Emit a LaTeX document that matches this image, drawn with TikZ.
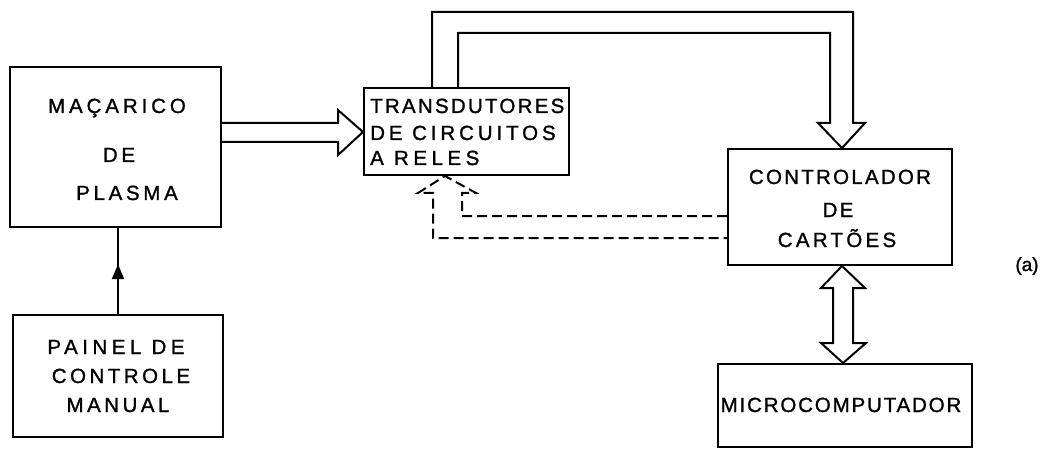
\documentclass[tikz,border=0pt]{standalone}
\usepackage{fontspec}
\newfontfamily\diagfont[FakeBold=1.2]{Liberation Sans}
\usetikzlibrary{decorations.markings,arrows.meta}
\begin{document}
\begin{tikzpicture}[x=1pt,y=-1pt,
  blk/.style={draw, line width=2pt, rectangle, inner sep=0pt},
  txt/.style={anchor=base, inner sep=0pt, font={\diagfont\fontsize{20.5}{24}\selectfont\addfontfeatures{LetterSpace=#1}}},
  txt/.default=15,
  wire/.style={line width=2pt, line join=miter},
  dwire/.style={line width=2pt, dashed, dash pattern=on 10pt off 5pt}
]
\useasboundingbox (0,0) rectangle (1046,449);
% boxes
\node[blk, minimum width=211pt, minimum height=160pt] (mac) at (115.5,147) {};
\node[blk, minimum width=210pt, minimum height=122pt] (pai) at (118,376) {};
\node[blk, minimum width=205pt, minimum height=87pt] (tra) at (466.5,131.5) {};
\node[blk, minimum width=224pt, minimum height=116pt] (con) at (840,207) {};
\node[blk, minimum width=254pt, minimum height=83pt] (mic) at (845,405.5) {};
% texts
\node[txt=19] (t1) at (117,113) {MAÇARICO};
\node[txt=18] (t2) at (119,162) {DE};
\node[txt=18] (t3) at (127,200) {PLASMA};
\node[txt=22] (t4) at (116,354) {PAINEL DE};
\node[txt=17] (t5) at (121,383) {CONTROLE};
\node[txt=17] (t6) at (118,412) {MANUAL};
\node[txt=11, anchor=base west] (t7) at (370,113) {TRANSDUTORES};
\node[txt=19, anchor=base west] (t8) at (370,140) {DE CIRCUITOS};
\node[txt=22, anchor=base west] (t9) at (370,165) {A RELES};
\node[txt=11] (t10) at (840,184) {CONTROLADOR};
\node[txt=11] (t11) at (838,217) {DE};
\node[txt=16] (t12) at (837,247) {CARTÕES};
\node[txt=9] (t13) at (841,412) {MICROCOMPUTADOR};
\node[anchor=base, inner sep=0pt, font={\diagfont\fontsize{19}{22}\selectfont}] (lab) at (1027,271) {(a)};
% manual panel -> torch
\draw[wire, decoration={markings, mark=at position 0.58 with {\arrow{Triangle[length=15pt,width=12pt]}}}, postaction={decorate}]
  (pai.north -| 118,0) -- (mac.south -| 118,0);
% hollow arrow torch -> transducers
\draw[wire] (mac.east |- 0,123) -- (338,123) -- (338,110) -- (tra.west |- 0,132)
  -- (338,155) -- (338,142) -- (mac.east |- 0,142);
% hollow arrow transducers -> controller (over the top)
\draw[wire] (tra.north -| 432,0) -- (432,12) -- (853,12) -- (853,123) -- (865,123)
  -- (con.north -| 842,0) -- (818,123) -- (830,123) -- (830,33) -- (458,33) -- (tra.north -| 458,0);
% dashed hollow arrow controller -> transducers
\draw[dwire] (con.west |- 0,216) -- (462,216) -- (462,193) -- (476,193)
  -- (tra.south -| 445,0) -- (418,193) -- (433,193) -- (433,238) -- (con.west |- 0,238);
% double hollow arrow controller <-> microcomputer
\draw[wire] (con.south -| 842,0) -- (865,288) -- (853,288) -- (853,343) -- (866,343)
  -- (mic.north -| 843,0) -- (821,343) -- (833,343) -- (833,288) -- (821,288) -- cycle;
\end{tikzpicture}
\end{document}
